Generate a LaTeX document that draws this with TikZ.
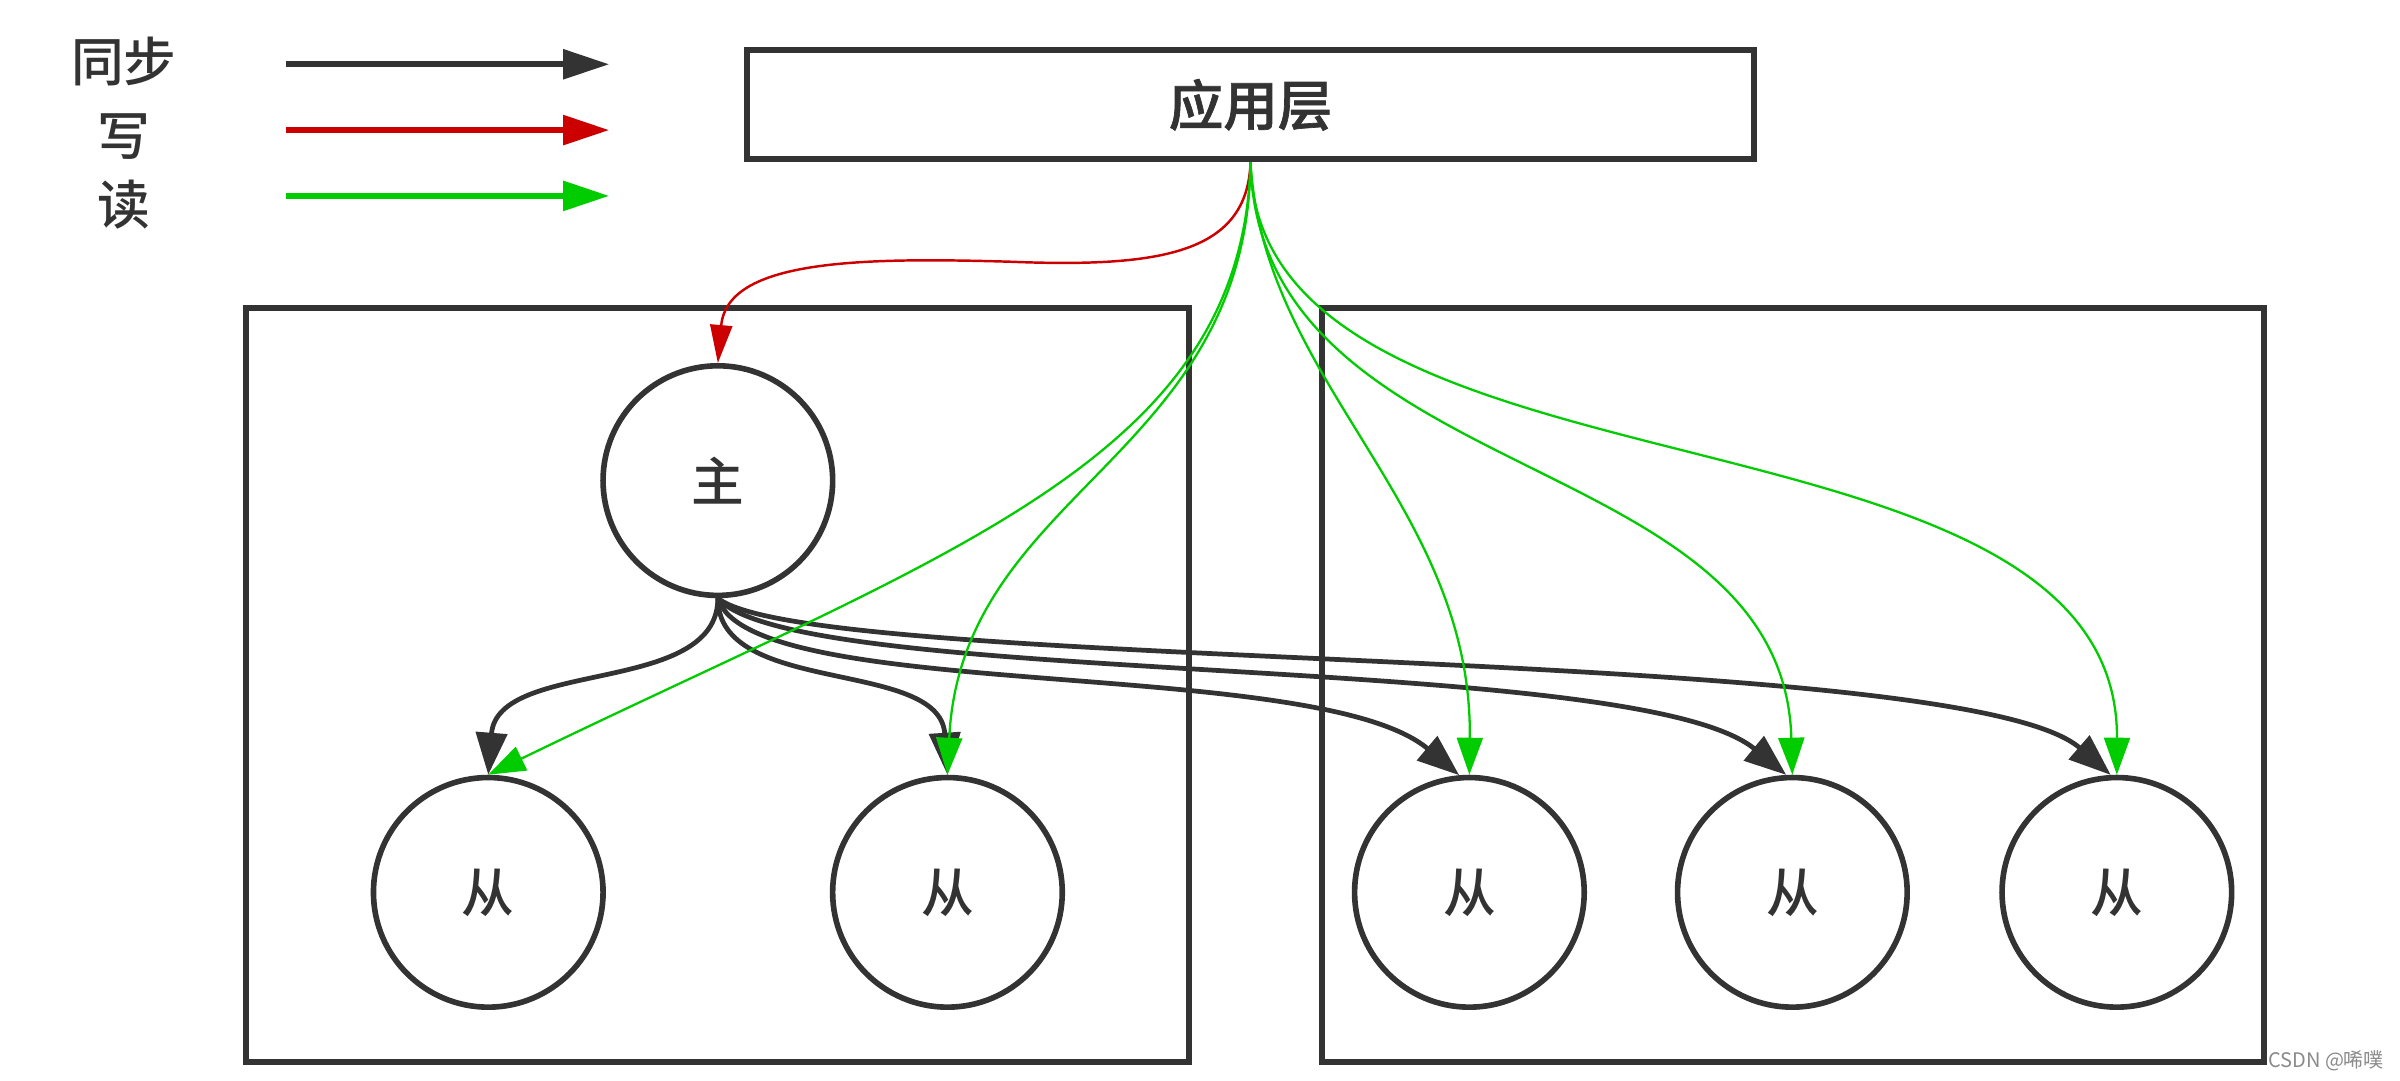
\documentclass[tikz,border=0pt]{standalone}
\usepackage{fontspec}
\setmainfont{Noto Sans CJK SC}
\newfontfamily\cjkmed{Noto Sans CJK SC}[UprightFont={* Medium},BoldFont={* Bold}]
\newfontfamily\cjksemi{Noto Sans CJK SC}[UprightFont={* Medium},UprightFeatures={FakeBold=1.2}]
\usetikzlibrary{arrows.meta}
\definecolor{dk}{HTML}{333333}
\definecolor{rd}{HTML}{CC0000}
\definecolor{gn}{HTML}{00CC00}
\definecolor{wmgray}{HTML}{8A8A8A}
\begin{document}
\begin{tikzpicture}[x=0.015306cm,y=-0.015306cm,
  box/.style={draw=dk,line width=1.7pt,rectangle,inner sep=0pt,fill=white},
  nd/.style={draw=dk,line width=1.6pt,circle,minimum size=2.296cm,inner sep=0pt,fill=white,
    font=\cjkmed\fontsize{15}{18}\selectfont,text=dk},
  syncar/.style={draw=dk,line width=1.35pt,-{Triangle[length=0.42cm,width=0.31cm]}},
  writear/.style={draw=rd,line width=0.7pt,-{Triangle[length=0.38cm,width=0.22cm]}},
  readar/.style={draw=gn,line width=0.65pt,-{Triangle[length=0.37cm,width=0.26cm]}},
  lgline/.style={line width=1.6pt,-{Triangle[length=0.46cm,width=0.29cm]}},
  lg/.style={font=\cjkmed\fontsize{15}{18}\selectfont,text=dk,inner sep=0pt},
]
\useasboundingbox (0,0) rectangle (1568,706);

% legend
\node[lg] (t1) at (81,40) {同步};
\node[lg] (t2) at (81,89) {写};
\node[lg] (t3) at (81,134) {读};
\coordinate (l1a) at (187,42);  \coordinate (l1b) at (398,42);
\coordinate (l2a) at (187,85);  \coordinate (l2b) at (398,85);
\coordinate (l3a) at (187,128); \coordinate (l3b) at (398,128);
\draw[lgline,draw=dk,fill=dk] (l1a) -- (l1b);
\draw[lgline,draw=rd,fill=rd] (l2a) -- (l2b);
\draw[lgline,draw=gn,fill=gn] (l3a) -- (l3b);

% application layer
\node[box,minimum width=10.071cm,minimum height=1.087cm,text=dk,
  font=\cjksemi\fontsize{15.5}{18}\selectfont] (app) at (817,68.5) {应用层};

% containers
\node[box,minimum width=9.429cm,minimum height=7.546cm] (lc) at (469,447.5) {};
\node[box,minimum width=9.413cm,minimum height=7.546cm] (rc) at (1171.5,447.5) {};

% nodes
\node[nd] (m) at (469,314) {主};
\node[nd] (s1) at (319,583) {从};
\node[nd] (s2) at (619,583) {从};
\node[nd] (s3) at (960,583) {从};
\node[nd] (s4) at (1171,583) {从};
\node[nd] (s5) at (1383,583) {从};

% sync
\draw[syncar] (m.south) .. controls (469,455) and (325,430) .. (s1.north);
\draw[syncar] (m.south) .. controls (469,455) and (614,430) .. (s2.north);
\draw[syncar] (m.south) .. controls (490,460) and (860,428) .. (s3.95);
\draw[syncar] (m.south) .. controls (520,450) and (1068,425) .. (s4.93);
\draw[syncar] (m.south) .. controls (530,440) and (1280,420) .. (s5.93);

% write
\coordinate (rw) at (660,171);
\draw[writear] (app.south) .. controls (815,165) and (760,175) .. (rw)
  .. controls (560,168) and (475,170) .. (m.north);

% read
\draw[readar] (app.south) .. controls (812,300) and (620,360) .. (s1.north);
\draw[readar] (app.south) .. controls (815,300) and (628,320) .. (s2.north);
\draw[readar] (app.south) .. controls (825,250) and (962,330) .. (s3.north);
\draw[readar] (app.south) .. controls (822,320) and (1165,290) .. (s4.north);
\draw[readar] (app.south) .. controls (820,340) and (1384,250) .. (s5.north);

% watermark
\node[font=\fontsize{5.7}{7}\selectfont,text=wmgray,anchor=east,inner sep=0pt] (wm) at (1558,693) {CSDN @唏噗};
\end{tikzpicture}
\end{document}
